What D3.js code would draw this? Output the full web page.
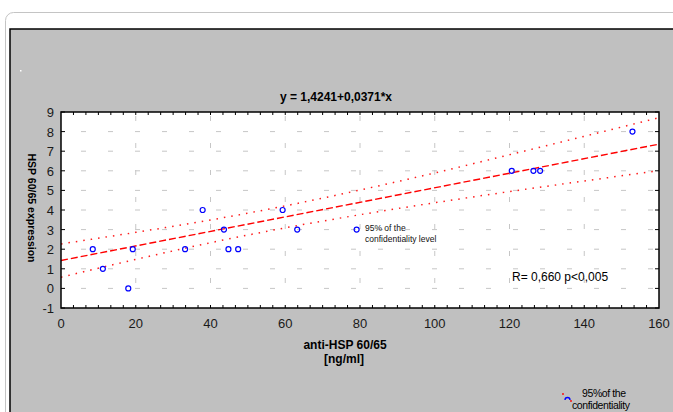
<!DOCTYPE html>
<html>
<head>
<meta charset="utf-8">
<script src="https://cdn.jsdelivr.net/npm/d3@7"></script>
<style>
	body { margin: 0; background: #fff; }
	svg { display: block; font-family: "Liberation Sans", Arial, sans-serif; }
</style>
</head>
<body>
<svg width="673" height="412"></svg>
<script>
// measured points (anti-HSP 60/65 vs HSP 60/65 expression)
const antiHsp = [8.5, 11.2, 18.0, 19.2, 33.2, 37.9, 43.6, 44.8, 47.4, 59.3, 63.2, 79.1, 120.6, 126.4, 128.2, 152.9];
const hspExpr = [2, 1, 0, 2, 2, 4, 3, 2, 2, 4, 3, 3, 6, 6, 6, 8];

// fitted line y = 1,4241 + 0,0371*x
const intercept = 1.4241;
const slope = 0.0371;

// 95% confidence band
const bandX = [0, 20, 40, 60, 80, 100, 120, 140, 160];
const bandUpper = [2.27, 2.86, 3.49, 4.21, 5.02, 5.89, 6.82, 7.76, 8.71];
const bandLower = [0.57, 1.48, 2.33, 3.09, 3.76, 4.37, 4.94, 5.48, 6.01];

const xTicks = [0, 20, 40, 60, 80, 100, 120, 140, 160];
const yTicks = [-1, 0, 1, 2, 3, 4, 5, 6, 7, 8, 9];

const svg = d3.select('svg');
const plot = { left: 61, right: 659, top: 112, bottom: 308 };

let x = d3.scaleLinear().domain([0, 160]).range([plot.left, plot.right]);
let y = d3.scaleLinear().domain([-1, 9]).range([plot.bottom, plot.top]);

// page frame + grey panel
svg.append('rect')
	.attr('x', 5.5).attr('y', 12.5).attr('width', 720).attr('height', 430)
	.attr('rx', 8).attr('fill', '#fff').attr('stroke', '#c4c4c4');
svg.append('rect')
	.attr('x', 10).attr('y', 29).attr('width', 700).attr('height', 420)
	.attr('fill', '#c0c0c0').attr('stroke', '#000').attr('stroke-width', 1.5);
svg.append('rect')
	.attr('x', 20).attr('y', 70).attr('width', 1.5).attr('height', 1.5).attr('fill', '#fff');

// plot area
svg.append('rect')
	.attr('x', plot.left).attr('y', plot.top)
	.attr('width', plot.right - plot.left).attr('height', plot.bottom - plot.top)
	.attr('fill', '#fff');

// grid
let grid = svg.append('g')
	.attr('stroke', '#c6c6c6').attr('stroke-width', 1).attr('stroke-dasharray', '5,22');
grid.selectAll('.hg')
	.data(yTicks.filter(d => d > -1 && d < 9))
	.join('line')
	.attr('x1', plot.left + 20).attr('x2', plot.right)
	.attr('y1', d => y(d)).attr('y2', d => y(d));
grid.selectAll('.vg')
	.data(xTicks.filter(d => d > 0 && d < 160))
	.join('line')
	.attr('x1', d => x(d)).attr('x2', d => x(d))
	.attr('y1', plot.top + 4).attr('y2', plot.bottom);

// confidence band
let bandLine = d3.line()
	.x(d => x(d[0]))
	.y(d => y(d[1]))
	.curve(d3.curveMonotoneX);

[bandUpper, bandLower].forEach(vals => {
	svg.append('path')
		.attr('d', bandLine(bandX.map((bx, i) => [bx, vals[i]])))
		.attr('fill', 'none')
		.attr('stroke', '#ff1a1a')
		.attr('stroke-width', 1.5)
		.attr('stroke-dasharray', '1.5,6');
});

// regression line
svg.append('line')
	.attr('x1', x(0)).attr('y1', y(intercept))
	.attr('x2', x(160)).attr('y2', y(intercept + slope * 160))
	.attr('stroke', '#ff0000')
	.attr('stroke-width', 1.4)
	.attr('stroke-dasharray', '7,3');

// points
let data = antiHsp.map((a, i) => ({ a: a, h: hspExpr[i] }));
svg.append('g')
	.selectAll('circle')
	.data(data)
	.join('circle')
	.attr('cx', d => x(d.a))
	.attr('cy', d => y(d.h))
	.attr('r', 2.5)
	.attr('fill', 'none')
	.attr('stroke', '#0000ff')
	.attr('stroke-width', 1.2);

// frame + ticks
svg.append('rect')
	.attr('x', plot.left).attr('y', plot.top)
	.attr('width', plot.right - plot.left).attr('height', plot.bottom - plot.top)
	.attr('fill', 'none').attr('stroke', '#000').attr('stroke-width', 1.5);

let minorX = d3.range(1, 48).map(i => i * 160 / 48);
let ticks = svg.append('g').attr('stroke', '#000').attr('stroke-width', 1);
ticks.selectAll('.tb')
	.data(minorX)
	.join('line')
	.attr('x1', d => x(d)).attr('x2', d => x(d))
	.attr('y1', plot.bottom).attr('y2', plot.bottom - 3);
ticks.selectAll('.tt')
	.data(minorX)
	.join('line')
	.attr('x1', d => x(d)).attr('x2', d => x(d))
	.attr('y1', plot.top).attr('y2', plot.top + 3);
ticks.selectAll('.tl')
	.data(yTicks)
	.join('line')
	.attr('x1', plot.left).attr('x2', plot.left + 4)
	.attr('y1', d => y(d)).attr('y2', d => y(d));
ticks.selectAll('.tr')
	.data(yTicks)
	.join('line')
	.attr('x1', plot.right).attr('x2', plot.right - 4)
	.attr('y1', d => y(d)).attr('y2', d => y(d));

// tick labels
svg.append('g')
	.selectAll('text')
	.data(xTicks)
	.join('text')
	.attr('x', d => x(d))
	.attr('y', 328)
	.attr('text-anchor', 'middle')
	.attr('font-size', 13)
	.attr('fill', '#1a1a1a')
	.text(d => d);
svg.append('g')
	.selectAll('text')
	.data(yTicks)
	.join('text')
	.attr('x', 54)
	.attr('y', d => y(d) + 5)
	.attr('text-anchor', 'end')
	.attr('font-size', 13)
	.attr('fill', '#1a1a1a')
	.text(d => d);

// titles
svg.append('text')
	.attr('x', 336).attr('y', 101)
	.attr('text-anchor', 'middle')
	.attr('font-size', 12).attr('font-weight', 'bold')
	.text('y = 1,4241+0,0371*x');
svg.append('text')
	.attr('x', 345).attr('y', 349)
	.attr('text-anchor', 'middle')
	.attr('font-size', 12).attr('font-weight', 'bold')
	.text('anti-HSP 60/65');
svg.append('text')
	.attr('x', 344).attr('y', 363)
	.attr('text-anchor', 'middle')
	.attr('font-size', 12).attr('font-weight', 'bold')
	.text('[ng/ml]');
svg.append('text')
	.attr('transform', 'translate(28,208) rotate(90)')
	.attr('text-anchor', 'middle')
	.attr('font-size', 10.5).attr('font-weight', 'bold')
	.text('HSP 60/65 expression');

// annotations
svg.append('text')
	.attr('x', 512).attr('y', 281)
	.attr('font-size', 12)
	.text('R= 0,660 p<0,005');

let note = svg.append('text')
	.attr('font-size', 8.5).attr('fill', '#111');
note.append('tspan').attr('x', 365).attr('y', 231).text('95% of the');
note.append('tspan').attr('x', 365).attr('y', 242).text('confidentiality level');

// legend at the bottom edge
svg.append('circle').attr('cx', 563).attr('cy', 394).attr('r', 0.9).attr('fill', '#ff0000');
svg.append('circle').attr('cx', 571).attr('cy', 401).attr('r', 0.9).attr('fill', '#ff0000');
svg.append('path')
	.attr('d', 'M565,400 A2.5,2.5 0 1 1 570,400')
	.attr('fill', 'none').attr('stroke', '#0000ff').attr('stroke-width', 1.3);
svg.append('text')
	.attr('x', 582).attr('y', 397)
	.attr('font-size', 10.5).attr('letter-spacing', -0.4)
	.text('95%of the');
svg.append('text')
	.attr('x', 572).attr('y', 409)
	.attr('font-size', 10.5).attr('letter-spacing', -0.4)
	.text('confidentiality');
</script>
</body>
</html>
